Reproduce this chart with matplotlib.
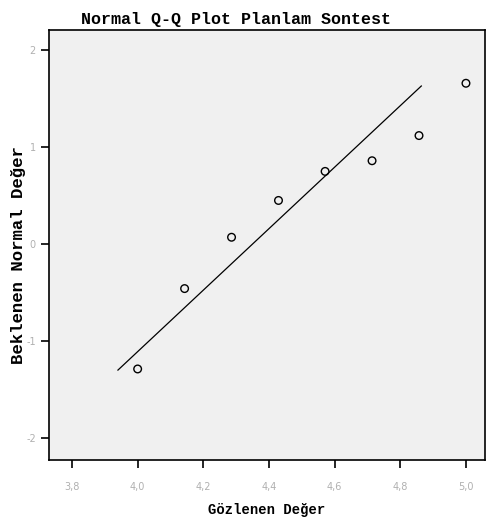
import matplotlib
matplotlib.use("Agg")
import matplotlib.pyplot as plt
import numpy as np

# Observed values and their expected normal quantiles
observed = [4.0, 4.143, 4.286, 4.429, 4.571, 4.714, 4.857, 5.0]
expected = [-1.29, -0.46, 0.07, 0.45, 0.75, 0.86, 1.12, 1.66]

# Reference line parameters (mean / standard deviation of the sample)
line_mean = 4.35
line_sd = 0.315
line_range = [3.94, 4.864]

xticks = [3.8, 4.0, 4.2, 4.4, 4.6, 4.8, 5.0]
yticks = [-2, -1, 0, 1, 2]

fig = plt.figure(figsize=(4.86, 5.22), dpi=100)
ax = fig.add_axes([49 / 486, 62 / 522, 436 / 486, 430 / 522])
ax.set_facecolor("#f0f0f0")

lx = np.array(line_range)
ax.plot(lx, (lx - line_mean) / line_sd, color="black", linewidth=0.9)
ax.scatter(observed, expected, s=30, facecolors="none", edgecolors="black",
           linewidths=1.0, zorder=3)

ax.set_xlim(3.73, 5.058)
ax.set_ylim(-2.23, 2.21)
ax.set_xticks(xticks, labels=[f"{t:.1f}".replace(".", ",") for t in xticks])
ax.set_yticks(yticks, labels=[str(t) for t in yticks])
ax.tick_params(direction="out", length=6, width=1.2, color="black",
               labelcolor="#b0b0b0", labelsize=7)
ax.tick_params(axis="x", pad=10)
for s in ax.spines.values():
    s.set_linewidth(1.2)

font = dict(family="Liberation Mono", weight="bold")
ax.set_title("Normal Q-Q Plot Planlam Sontest", fontsize=12, pad=4,
             x=0.43, **font)
ax.set_xlabel("Gözlenen Değer", fontsize=10, labelpad=8, **font)
ax.set_ylabel("Beklenen Normal Değer", fontsize=12.5, **font)
ax.yaxis.set_label_coords(-0.052, 0.477)

fig.savefig("out.png", dpi=100)
